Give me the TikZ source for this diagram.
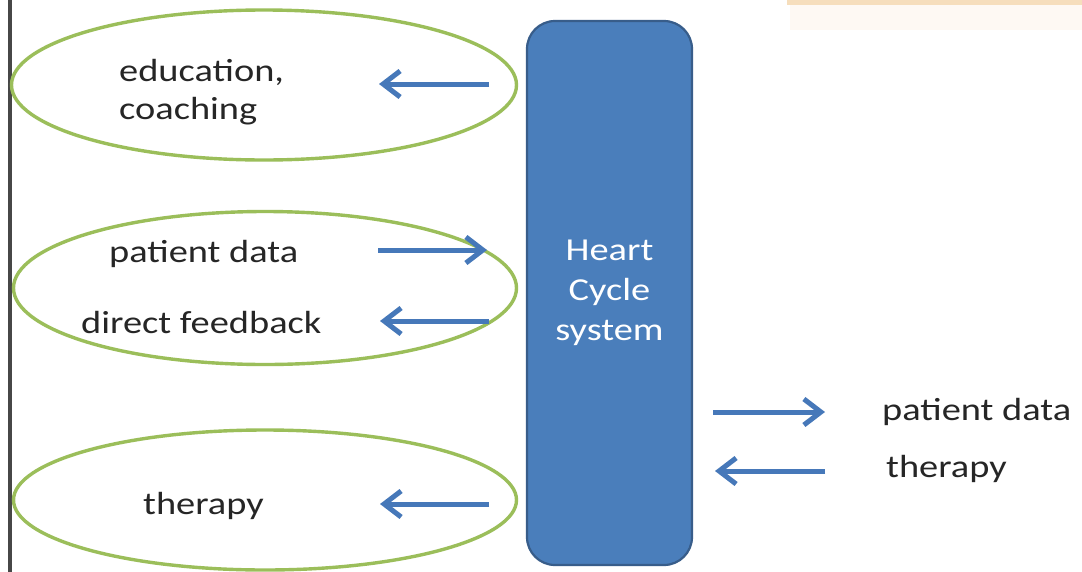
\documentclass[tikz,border=0pt]{standalone}
\usepackage{fontspec}
\setmainfont{Carlito}[FakeStretch=1.2]
\usetikzlibrary{shapes.geometric,arrows.meta}
\definecolor{boxblue}{RGB}{74,126,187}
\definecolor{boxedge}{RGB}{56,93,138}
\definecolor{arrowblue}{RGB}{70,120,185}
\definecolor{ellgreen}{RGB}{155,190,90}
\definecolor{txt}{RGB}{38,38,38}
\definecolor{peach}{RGB}{246,222,188}
\definecolor{peachshade}{RGB}{254,249,243}
\tikzset{
  oval/.style={ellipse, draw=ellgreen, line width=3.4pt, inner sep=0pt},
  lbl/.style={anchor=base west, inner sep=0pt, text=txt, font=\fontsize{32}{38}\selectfont},
  flow/.style={draw=arrowblue, line width=5pt, -{Straight Barb[length=17pt,width=26pt]}},
  sysbox/.style={draw=boxedge, line width=2.2pt, fill=boxblue, rounded corners=28pt,
    text=white, align=center, font=\fontsize{32}{40}\selectfont}
}
\begin{document}
\begin{tikzpicture}[x=1pt,y=-1pt]
\useasboundingbox (0,0) rectangle (1082,571);
\fill[white] (0,0) rectangle (1082,571);
% top-right peach box fragment
\fill[peachshade] (790,5) rectangle (1082,30);
\fill[peach] (787,-10) rectangle (1082,5);
% left border
\draw[line width=3.2pt, draw=black!72] (10,-5) -- (10,576);
% ellipses
\node[oval, minimum width=505pt, minimum height=150pt] (e1) at (264,85) {};
\node[oval, minimum width=503pt, minimum height=153pt] (e2) at (265,288) {};
\node[oval, minimum width=503pt, minimum height=140pt] (e3) at (265,500) {};
% system box
\node[sysbox, minimum width=165pt, minimum height=544pt] (hc) at (609.5,293) {Heart\\Cycle\\system};
% labels
\node[lbl, align=left] (edu) at (119,119) {education,\\coaching};
\node[lbl] (pd1) at (109,262) {patient data};
\node[lbl] (df) at (81,333) {direct feedback};
\node[lbl] (th1) at (143,514) {therapy};
\node[lbl] (pd2) at (882,420) {patient data};
\node[lbl] (th2) at (886,477) {therapy};
% arrow end points
\coordinate (a1s) at (489,84);  \coordinate (a1e) at (379,84);
\coordinate (a2s) at (378,250); \coordinate (a2e) at (487,250);
\coordinate (a3s) at (489,321); \coordinate (a3e) at (380,321);
\coordinate (a4s) at (489,504); \coordinate (a4e) at (380,504);
\coordinate (a5s) at (713,412); \coordinate (a5e) at (825,412);
\coordinate (a6s) at (825,471); \coordinate (a6e) at (715,471);
\draw[flow] (a1s) -- (a1e);
\draw[flow] (a2s) -- (a2e);
\draw[flow] (a3s) -- (a3e);
\draw[flow] (a4s) -- (a4e);
\draw[flow] (a5s) -- (a5e);
\draw[flow] (a6s) -- (a6e);
\end{tikzpicture}
\end{document}
